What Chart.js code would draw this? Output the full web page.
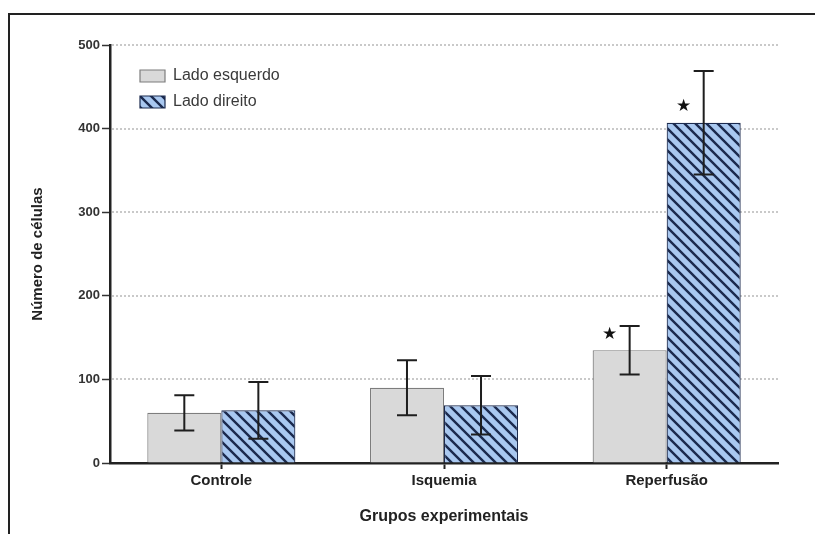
<!DOCTYPE html>
<html>
<head>
<meta charset="utf-8">
<script src="https://cdn.jsdelivr.net/npm/chart.js@4/dist/chart.umd.min.js"></script>
<style>
  html, body { margin: 0; padding: 0; background: #fff; }
  #wrap { position: relative; width: 815px; height: 534px; }
  #frame { position: absolute; left: 8px; top: 13px; right: 0; bottom: 0;
           border-top: 2px solid #222; border-left: 2px solid #222; }
  #chart { position: absolute; left: 0; top: 0; }
</style>
</head>
<body>
<div id="wrap">
  <div id="frame"></div>
  <canvas id="chart" width="815" height="534"></canvas>
</div>
<script>
// Data
const groups = ['Controle', 'Isquemia', 'Reperfusão'];
const leftMeans = [60, 90, 135];
const leftErrors = [21, 33, 29];
const rightMeans = [63, 69, 407];
const rightErrors = [34, 35, 62];
const leftStars = [false, false, true];
const rightStars = [false, false, true];
const yTicks = [0, 100, 200, 300, 400, 500];

const FONT = "'Liberation Sans', Arial, sans-serif";

// Hatch pattern for "Lado direito"
function makeHatch() {
    const s = 11;
    const c = document.createElement('canvas');
    c.width = s; c.height = s;
    const g = c.getContext('2d');
    g.fillStyle = '#a9c8f0';
    g.fillRect(0, 0, s, s);
    g.strokeStyle = '#1b2a4e';
    g.lineWidth = 2.4;
    g.beginPath();
    g.moveTo(-s, 0); g.lineTo(s, 2 * s);
    g.moveTo(0, 0); g.lineTo(s, s);
    g.moveTo(0, -s); g.lineTo(2 * s, s);
    g.stroke();
    return g.createPattern(c, 'repeat');
}
const hatch = makeHatch();

// dotted horizontal grid lines
const dottedGrid = {
    id: 'dottedGrid',
    beforeDatasetsDraw(chart) {
        const { ctx, chartArea, scales: { y } } = chart;
        ctx.save();
        ctx.strokeStyle = '#c9c9c9';
        ctx.lineWidth = 2;
        ctx.setLineDash([2, 2]);
        y.ticks.forEach(t => {
            if (t.value === 0) return;
            const py = Math.round(y.getPixelForValue(t.value));
            ctx.beginPath();
            ctx.moveTo(chartArea.left + 2, py);
            ctx.lineTo(chartArea.right, py);
            ctx.stroke();
        });
        ctx.restore();
    }
};

// error bars + significance stars
const errorBars = {
    id: 'errorBars',
    afterDatasetsDraw(chart) {
        const { ctx, scales: { y } } = chart;
        chart.data.datasets.forEach((ds, i) => {
            const meta = chart.getDatasetMeta(i);
            meta.data.forEach((bar, j) => {
                const v = ds.data[j], e = ds.errors[j];
                const top = y.getPixelForValue(v + e);
                const bot = y.getPixelForValue(v - e);
                ctx.save();
                ctx.strokeStyle = '#1e1e1e';
                ctx.lineWidth = 2;
                ctx.beginPath();
                ctx.moveTo(bar.x, top); ctx.lineTo(bar.x, bot);
                ctx.moveTo(bar.x - 10, top); ctx.lineTo(bar.x + 10, top);
                ctx.moveTo(bar.x - 10, bot); ctx.lineTo(bar.x + 10, bot);
                ctx.stroke();
                if (ds.stars[j]) {
                    ctx.fillStyle = '#111';
                    ctx.font = "17px 'DejaVu Sans'";
                    ctx.textAlign = 'center';
                    ctx.textBaseline = 'middle';
                    ctx.fillText('★', bar.x - 20, bar.y - 16);
                }
                ctx.restore();
            });
        });
    }
};

// nudge the in-plot legend
const legendShift = {
    id: 'legendShift',
    afterLayout(chart) {
        chart.legend.left += 20;
        chart.legend.top += 58;
    }
};

new Chart(document.getElementById('chart'), {
    type: 'bar',
    data: {
        labels: groups,
        datasets: [
            {
                label: 'Lado esquerdo',
                data: leftMeans,
                errors: leftErrors,
                stars: leftStars,
                backgroundColor: '#d9d9d9',
                borderColor: '#7d7d7d',
                borderWidth: 1.2,
                categoryPercentage: 0.665,
                barPercentage: 1.0
            },
            {
                label: 'Lado direito',
                data: rightMeans,
                errors: rightErrors,
                stars: rightStars,
                backgroundColor: hatch,
                borderColor: '#1b2a4e',
                borderWidth: 1.2,
                categoryPercentage: 0.665,
                barPercentage: 1.0
            }
        ]
    },
    options: {
        responsive: false,
        animation: false,
        layout: { padding: { top: 45, right: 37, bottom: 0, left: 0 } },
        plugins: {
            tooltip: { enabled: false },
            legend: {
                position: 'chartArea',
                align: 'start',
                labels: {
                    boxWidth: 25,
                    boxHeight: 12,
                    padding: 10,
                    color: '#3a3a3a',
                    font: { family: FONT, size: 16 }
                }
            }
        },
        scales: {
            x: {
                afterFit(s) { s.height = 71; },
                grid: { offset: false, drawOnChartArea: false, tickLength: 6, color: '#222', tickWidth: 2 },
                border: { color: '#222', width: 2.5 },
                ticks: { color: '#222', padding: 3, font: { family: FONT, size: 15, weight: 'bold' } },
                title: {
                    display: true,
                    text: 'Grupos experimentais',
                    color: '#222',
                    padding: { top: 0, bottom: 8 },
                    font: { family: FONT, size: 16, weight: 'bold' }
                }
            },
            y: {
                min: 0,
                max: 500,
                afterFit(s) { s.width = 110; },
                afterBuildTicks(s) { s.ticks = yTicks.map(v => ({ value: v })); },
                grid: { drawOnChartArea: false, tickLength: 8, color: '#333', tickWidth: 1.5 },
                border: { color: '#222', width: 2.5 },
                ticks: { color: '#333', padding: 2, font: { family: FONT, size: 13, weight: 'bold' } },
                title: {
                    display: true,
                    text: 'Número de células',
                    color: '#222',
                    padding: { top: 29, bottom: 0 },
                    font: { family: FONT, size: 15, weight: 'bold' }
                }
            }
        }
    },
    plugins: [dottedGrid, errorBars, legendShift]
});
</script>
</body>
</html>
